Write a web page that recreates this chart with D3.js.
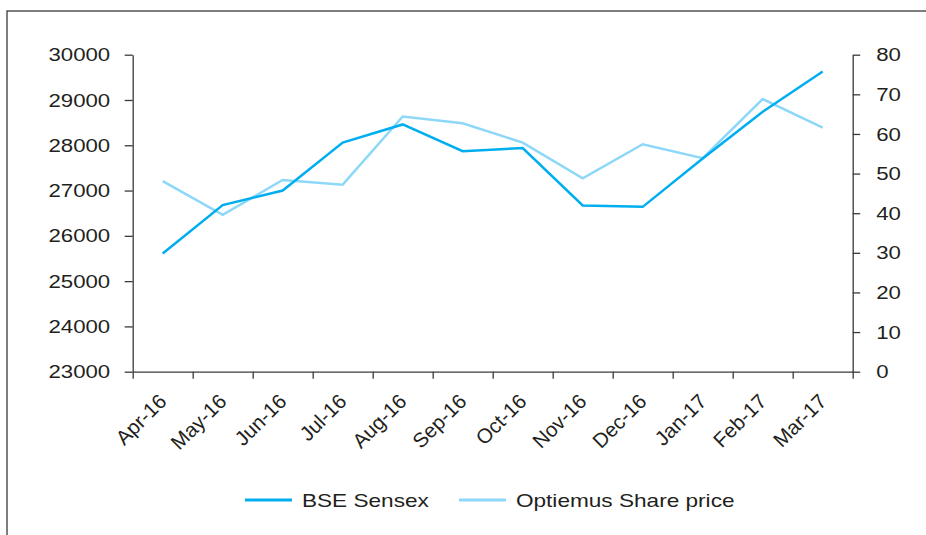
<!DOCTYPE html>
<html>
<head>
  <meta charset="UTF-8">
  <style>
    body { margin: 0; background: #fff; }
    text { font-family: "Liberation Sans", Arial, sans-serif; fill: #231f20; }
    .axis path, .axis line { stroke: #3a3a3a; stroke-width: 1.3; }
  </style>
</head>
<body>
<svg></svg>
<script src="https://d3js.org/d3.v7.min.js"></script>
<script>

let width = 926, height = 535;

// data
let months = ["Apr-16","May-16","Jun-16","Jul-16","Aug-16","Sep-16","Oct-16","Nov-16","Dec-16","Jan-17","Feb-17","Mar-17"];
let sensex = [25610, 26680, 27000, 28060, 28460, 27870, 27940, 26670, 26640, 27710, 28740, 29630];
let optiemus = [48.1, 39.6, 48.4, 47.2, 64.4, 62.7, 57.8, 48.8, 57.4, 53.9, 68.8, 61.6];
let leftTicks = [23000, 24000, 25000, 26000, 27000, 28000, 29000, 30000];
let rightTicks = [0, 10, 20, 30, 40, 50, 60, 70, 80];

let svg = d3.select("svg")
    .attr("width", width)
    .attr("height", height);

// outer frame (runs off the right and bottom edges)
svg.append("rect")
    .attr("x", 7).attr("y", 11)
    .attr("width", 940).attr("height", 560)
    .attr("fill", "none")
    .attr("stroke", "#3a3a3a")
    .attr("stroke-width", 1.3);

let plotLeft = 132.7, plotRight = 852.7, plotTop = 54.7, plotBottom = 371.7;

let x = d3.scaleBand().domain(months).range([plotLeft, plotRight]);
let edge = d3.scaleLinear().domain([0, months.length]).range([plotLeft, plotRight]);
let yL = d3.scaleLinear().domain([23000, 30000]).range([plotBottom, plotTop]);
let yR = d3.scaleLinear().domain([0, 80]).range([plotBottom, plotTop]);

// the source text is a bit wide for its height
let fontSize = 19, stretch = 1.17;

// left axis
let gl = svg.append("g").attr("class", "axis")
    .attr("transform", "translate(" + plotLeft + ",0)")
    .call(d3.axisLeft(yL).tickValues(leftTicks).tickFormat(d3.format("d"))
        .tickSize(8).tickSizeOuter(0));
gl.selectAll("text")
    .style("font-size", fontSize + "px")
    .attr("x", -(8 + 14.5) / stretch)
    .attr("transform", "scale(" + stretch + ",1)");

// right axis
let gr = svg.append("g").attr("class", "axis")
    .attr("transform", "translate(" + plotRight + ",0)")
    .call(d3.axisRight(yR).tickValues(rightTicks).tickSize(7.5).tickSizeOuter(0));
gr.selectAll("text")
    .style("font-size", fontSize + "px")
    .attr("x", (7.5 + 16) / stretch)
    .attr("transform", "scale(" + stretch + ",1)");

// bottom axis: tick marks at band edges
svg.append("g").attr("class", "axis")
    .attr("transform", "translate(0," + plotBottom + ")")
    .call(d3.axisBottom(edge).ticks(months.length).tickFormat("").tickSize(7).tickSizeOuter(0));

// month labels, rotated
svg.append("g")
    .selectAll("text")
    .data(months)
    .enter()
    .append("text")
    .attr("text-anchor", "end")
    .style("font-size", "20.5px")
    .attr("transform", d => "translate(" + (x(d) + x.bandwidth() / 2 + 5) + "," + (plotBottom + 31) + ") rotate(-45)")
    .text(d => d);

let lineL = d3.line()
    .x((d, i) => x(months[i]) + x.bandwidth() / 2)
    .y(d => yL(d));
let lineR = d3.line()
    .x((d, i) => x(months[i]) + x.bandwidth() / 2)
    .y(d => yR(d));

svg.append("path")
    .datum(optiemus)
    .attr("d", lineR)
    .attr("fill", "none")
    .attr("stroke", "#8dd8f8")
    .attr("stroke-width", 2.5);

svg.append("path")
    .datum(sensex)
    .attr("d", lineL)
    .attr("fill", "none")
    .attr("stroke", "#00aeef")
    .attr("stroke-width", 2.5);

// legend
let legend = [
    {name: "BSE Sensex", color: "#00aeef", x: 245},
    {name: "Optiemus Share price", color: "#8dd8f8", x: 459}
];
let lg = svg.append("g").selectAll("g")
    .data(legend)
    .enter().append("g")
    .attr("transform", d => "translate(" + d.x + ",500)");
lg.append("line")
    .attr("x1", 0).attr("x2", 47)
    .attr("stroke", d => d.color)
    .attr("stroke-width", 3);
lg.append("text")
    .attr("x", 56 / stretch)
    .attr("dy", "0.35em")
    .attr("transform", "scale(" + (stretch + 0.02) + ",1)")
    .style("font-size", fontSize + "px")
    .text(d => d.name);

</script>
</body>
</html>
